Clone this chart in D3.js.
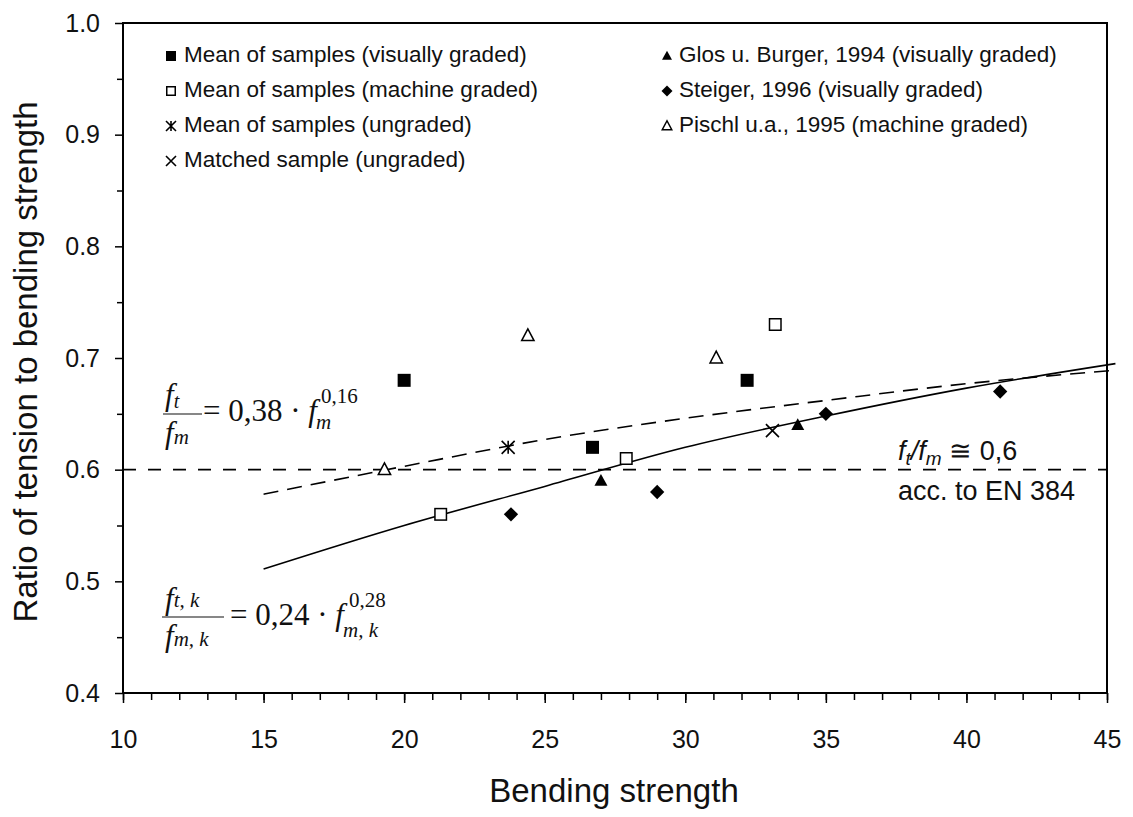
<!DOCTYPE html>
<html><head><meta charset="utf-8">
<script src="https://cdn.jsdelivr.net/npm/d3@7"></script>
<style>body{margin:0;background:#fff}</style>
</head><body>
<svg id="chart" width="1133" height="817"></svg>
<script>
// ---------- data ----------
const xMajorTicks = [10,15,20,25,30,35,40,45];
const yMajorTicks = [0.4,0.5,0.6,0.7,0.8,0.9,1.0];
const visualMeans   = [[20.0,0.68],[26.7,0.62],[32.2,0.68]];
const machineMeans  = [[21.3,0.56],[27.9,0.61],[33.2,0.73]];
const ungradedMeans = [[23.7,0.62]];
const matchedSample = [[33.1,0.635]];
const glosBurger    = [[27.0,0.59],[34.0,0.64]];
const steiger       = [[23.8,0.56],[29.0,0.58],[35.0,0.65],[41.2,0.67]];
const pischl        = [[19.3,0.60],[24.4,0.72],[31.1,0.70]];
const fitX          = [15,20,25,30,35,40,45.3];
const fitMeanY      = [0.578,0.603,0.627,0.646,0.662,0.677,0.689];
const fitCharY      = [0.511,0.550,0.585,0.620,0.648,0.673,0.695];
const enRatio       = 0.6;
const legendLeft  = ["Mean of samples (visually graded)","Mean of samples (machine graded)","Mean of samples (ungraded)","Matched sample (ungraded)"];
const legendRight = ["Glos u. Burger, 1994 (visually graded)","Steiger, 1996 (visually graded)","Pischl u.a., 1995 (machine graded)"];
const xTitle = "Bending strength";
const yTitle = "Ratio of tension to bending strength";

// ---------- setup ----------
const svg = d3.select("#chart");
const SANS = "'Liberation Sans', Arial, sans-serif";
const SERIF = "'Liberation Serif', 'Times New Roman', serif";
const L = 123, R = 1107, T = 23, B = 693;
const x = d3.scaleLinear().domain([10,45]).range([L,R]);
const y = d3.scaleLinear().domain([0.4,1.0]).range([B,T]);

// ---------- axes ----------
const xMinor = d3.range(10,45.01,1);
const gxMinor = svg.append("g").attr("transform",`translate(0,${B})`)
  .call(d3.axisBottom(x).tickValues(xMinor).tickSize(7).tickFormat(""));
const gx = svg.append("g").attr("transform",`translate(0,${B})`)
  .call(d3.axisBottom(x).tickValues(xMajorTicks).tickSize(10).tickPadding(27).tickFormat(d3.format("d")));
const yMinor = d3.range(0.45,1.0,0.1);
const gyMinor = svg.append("g").attr("transform",`translate(${L},0)`)
  .call(d3.axisLeft(y).tickValues(yMinor).tickSize(6).tickFormat(""));
const gy = svg.append("g").attr("transform",`translate(${L},0)`)
  .call(d3.axisLeft(y).tickValues(yMajorTicks).tickSize(8).tickPadding(15).tickFormat(d3.format(".1f")));
[gxMinor,gx,gyMinor,gy].forEach(g=>{
  g.selectAll(".domain").remove();
  g.selectAll(".tick line").attr("stroke","#000").attr("stroke-width",1.5);
  g.selectAll("text").attr("font-family",SANS).attr("font-size",25).attr("fill","#111");
});
// frame
svg.append("rect").attr("x",L).attr("y",T).attr("width",R-L).attr("height",B-T)
  .attr("fill","none").attr("stroke","#000").attr("stroke-width",2);

// titles
svg.append("text").attr("x",614).attr("y",802).attr("text-anchor","middle")
  .attr("font-family",SANS).attr("font-size",33).attr("fill","#111").text(xTitle);
svg.append("text").attr("transform","translate(37,362) rotate(-90)").attr("text-anchor","middle")
  .attr("font-family",SANS).attr("font-size",33).attr("fill","#111").text(yTitle);

// ---------- lines ----------
const line = d3.line().x(d=>x(d[0])).y(d=>y(d[1])).curve(d3.curveMonotoneX);
svg.append("path").datum(fitX.map((v,i)=>[v,fitMeanY[i]])).attr("d",line)
  .attr("fill","none").attr("stroke","#000").attr("stroke-width",1.6).attr("stroke-dasharray","15,9");
svg.append("path").datum(fitX.map((v,i)=>[v,fitCharY[i]])).attr("d",line)
  .attr("fill","none").attr("stroke","#000").attr("stroke-width",1.6);
svg.append("line").attr("x1",x(10)).attr("x2",x(45)).attr("y1",y(enRatio)).attr("y2",y(enRatio))
  .attr("stroke","#000").attr("stroke-width",1.6).attr("stroke-dasharray","13,12");

// ---------- markers ----------
function marker(g,type,cx,cy,s){
  const h=s/2;
  if(type==="fsq") g.append("rect").attr("x",cx-h).attr("y",cy-h).attr("width",s).attr("height",s).attr("fill","#000");
  else if(type==="osq") g.append("rect").attr("x",cx-h+0.75).attr("y",cy-h+0.75).attr("width",s-1.5).attr("height",s-1.5).attr("fill","#fff").attr("stroke","#000").attr("stroke-width",1.5);
  else if(type==="ftri") g.append("path").attr("d",`M${cx},${cy-h*1.05}L${cx+h},${cy+h*0.75}L${cx-h},${cy+h*0.75}Z`).attr("fill","#000");
  else if(type==="otri") g.append("path").attr("d",`M${cx},${cy-h*1.05}L${cx+h*0.95},${cy+h*0.75}L${cx-h*0.95},${cy+h*0.75}Z`).attr("fill","#fff").attr("stroke","#000").attr("stroke-width",1.5);
  else if(type==="dia") g.append("path").attr("d",`M${cx},${cy-h*1.1}L${cx+h*1.1},${cy}L${cx},${cy+h*1.1}L${cx-h*1.1},${cy}Z`).attr("fill","#000");
  else if(type==="x"||type==="ast"){
    g.append("path").attr("d",`M${cx-h},${cy-h}L${cx+h},${cy+h}M${cx+h},${cy-h}L${cx-h},${cy+h}`+(type==="ast"?`M${cx},${cy-h}L${cx},${cy+h}`:""))
      .attr("stroke","#000").attr("stroke-width",1.6).attr("fill","none");
  }
}
const series = [
  [visualMeans,"fsq"],[machineMeans,"osq"],[ungradedMeans,"ast"],[matchedSample,"x"],
  [glosBurger,"ftri"],[steiger,"dia"],[pischl,"otri"]
];
const gm = svg.append("g");
series.forEach(([data,type])=>data.forEach(d=>marker(gm,type,x(d[0]),y(d[1]),13)));

// ---------- legend ----------
const rowsY = [62,97,132,167];
const gl = svg.append("g");
const leftTypes = ["fsq","osq","ast","x"], rightTypes = ["ftri","dia","otri"];
legendLeft.forEach((t,i)=>{
  marker(gl,leftTypes[i],171,rowsY[i]-6,10);
  gl.append("text").attr("x",184).attr("y",rowsY[i]).attr("font-family",SANS).attr("font-size",22.5).attr("fill","#111").text(t);
});
legendRight.forEach((t,i)=>{
  marker(gl,rightTypes[i],667,rowsY[i]-6,10);
  gl.append("text").attr("x",679).attr("y",rowsY[i]).attr("font-family",SANS).attr("font-size",22.5).attr("fill","#111").text(t);
});

// ---------- formula annotations ----------
const fa = svg.append("g").attr("font-family",SERIF).attr("fill","#111");
// upper: f_t / f_m = 0,38 · f_m^0,16
let t1 = fa.append("text").attr("x",165).attr("y",405).attr("font-size",31);
t1.append("tspan").attr("font-style","italic").text("f");
t1.append("tspan").attr("font-style","italic").attr("font-size",20).attr("dy",3).text("t");
fa.append("line").attr("x1",163).attr("x2",202).attr("y1",414).attr("y2",414).attr("stroke","#111").attr("stroke-width",1.2);
let t2 = fa.append("text").attr("x",165).attr("y",443).attr("font-size",31);
t2.append("tspan").attr("font-style","italic").text("f");
t2.append("tspan").attr("font-style","italic").attr("font-size",21).attr("dy",1).text("m");
fa.append("text").attr("x",203).attr("y",421).attr("font-size",31).text("= 0,38 · ")
  .append("tspan").attr("font-style","italic").text("f");
fa.append("text").attr("x",321).attr("y",403).attr("font-size",21).text("0,16");
fa.append("text").attr("x",316).attr("y",429).attr("font-size",21).attr("font-style","italic").text("m");

// lower: f_t,k / f_m,k = 0,24 · f_m,k^0,28
let t3 = fa.append("text").attr("x",165).attr("y",609).attr("font-size",31);
t3.append("tspan").attr("font-style","italic").text("f");
t3.append("tspan").attr("font-style","italic").attr("font-size",21).attr("dy",-2).text("t, k");
fa.append("line").attr("x1",162).attr("x2",224).attr("y1",617).attr("y2",617).attr("stroke","#111").attr("stroke-width",1.2);
let t4 = fa.append("text").attr("x",165).attr("y",646).attr("font-size",31);
t4.append("tspan").attr("font-style","italic").text("f");
t4.append("tspan").attr("font-style","italic").attr("font-size",21).text("m, k");
fa.append("text").attr("x",230).attr("y",625).attr("font-size",31).text("= 0,24 · ")
  .append("tspan").attr("font-style","italic").text("f");
fa.append("text").attr("x",349).attr("y",607).attr("font-size",21).text("0,28");
fa.append("text").attr("x",343).attr("y",637).attr("font-size",21).attr("font-style","italic").text("m, k");

// right: f_t/f_m ≅ 0,6  acc. to EN 384
const ra = svg.append("g").attr("font-family",SANS).attr("fill","#111");
let t5 = ra.append("text").attr("x",898).attr("y",460).attr("font-size",27);
t5.append("tspan").attr("font-style","italic").text("f");
t5.append("tspan").attr("font-style","italic").attr("font-size",19).attr("dy",5).text("t");
t5.append("tspan").attr("font-style","italic").attr("dy",-5).text("/f");
t5.append("tspan").attr("font-style","italic").attr("font-size",19).attr("dy",5).text("m");
t5.append("tspan").attr("dy",-5).text(" \u2245 0,6");
ra.append("text").attr("x",898).attr("y",500).attr("font-size",27).text("acc. to EN 384");
</script>
</body></html>
